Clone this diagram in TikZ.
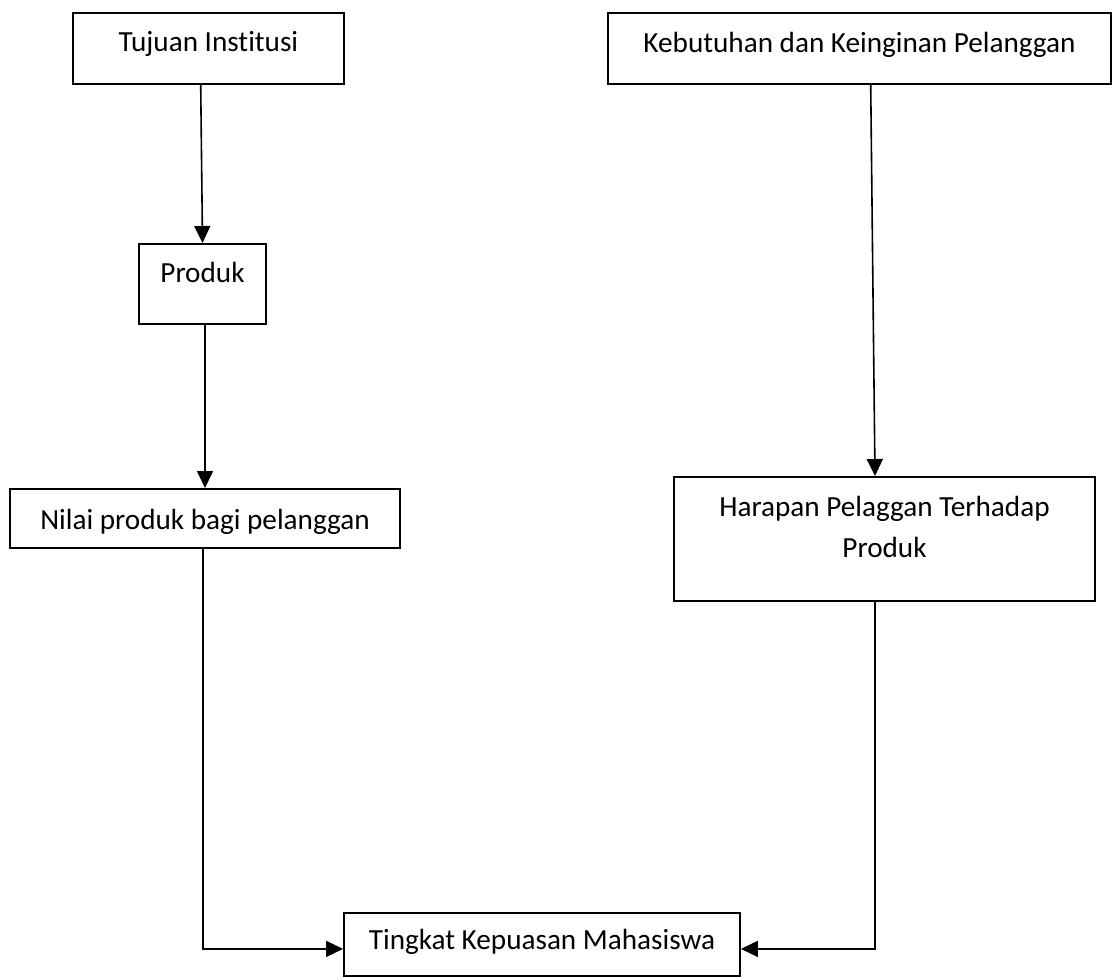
\documentclass[tikz,border=0pt]{standalone}
\usepackage{fontspec}
\setmainfont{Carlito}[Ligatures=NoCommon]
\usepackage{tikz}
\usetikzlibrary{arrows.meta,positioning,calc}

\begin{document}
\begin{tikzpicture}[x=0.5pt, y=-0.5pt,
    box/.style={rectangle, draw=black, line width=0.9pt, inner sep=0pt,
        font=\fontsize{14.6}{20.5}\selectfont, anchor=north},
    arr/.style={-{Triangle[length=8.5pt, width=8pt]}, line width=0.8pt}
]
    \useasboundingbox (0,0) rectangle (1113,976);

    % Left column
    \node[box, minimum width=135.5pt, text height=19.5pt, text depth=16pt] (tujuan) at (208.5,12) {Tujuan Institusi};
    \node[box, minimum width=63.5pt, text height=19.5pt, text depth=20.5pt] (produk) at (202.5,243) {Produk};
    \node[box, minimum width=195pt, text height=20.5pt, text depth=9pt] (nilai) at (205,488) {Nilai produk bagi pelanggan};

    % Right column
    \node[box, minimum width=251.5pt, text height=20pt, text depth=15.5pt] (kebutuhan) at (859.5,12) {Kebutuhan dan Keinginan Pelanggan};
    \node[box, minimum width=210.5pt, text height=40.5pt, text depth=21.5pt, align=center] (harapan) at (884.5,476) {Harapan Pelaggan Terhadap\\Produk};

    % Result
    \node[box, minimum width=198pt, text height=18.5pt, text depth=13pt] (tingkat) at (542,912) {Tingkat Kepuasan Mahasiswa};

    % Vertical arrows
    \draw[arr] ([xshift=-3.9pt]tujuan.south) -- (produk.north);
    \draw[arr] ([xshift=1.25pt]produk.south) -- (nilai.north);
    \draw[arr] ([xshift=5.6pt]kebutuhan.south) -- ([xshift=-4.75pt]harapan.north);

    % Into the result
    \draw[arr] ([xshift=-1pt]nilai.south) |- ([yshift=-2.25pt]tingkat.west);
    \draw[arr] ([xshift=-4.75pt]harapan.south) |- ([yshift=-2.25pt]tingkat.east);
\end{tikzpicture}
\end{document}
